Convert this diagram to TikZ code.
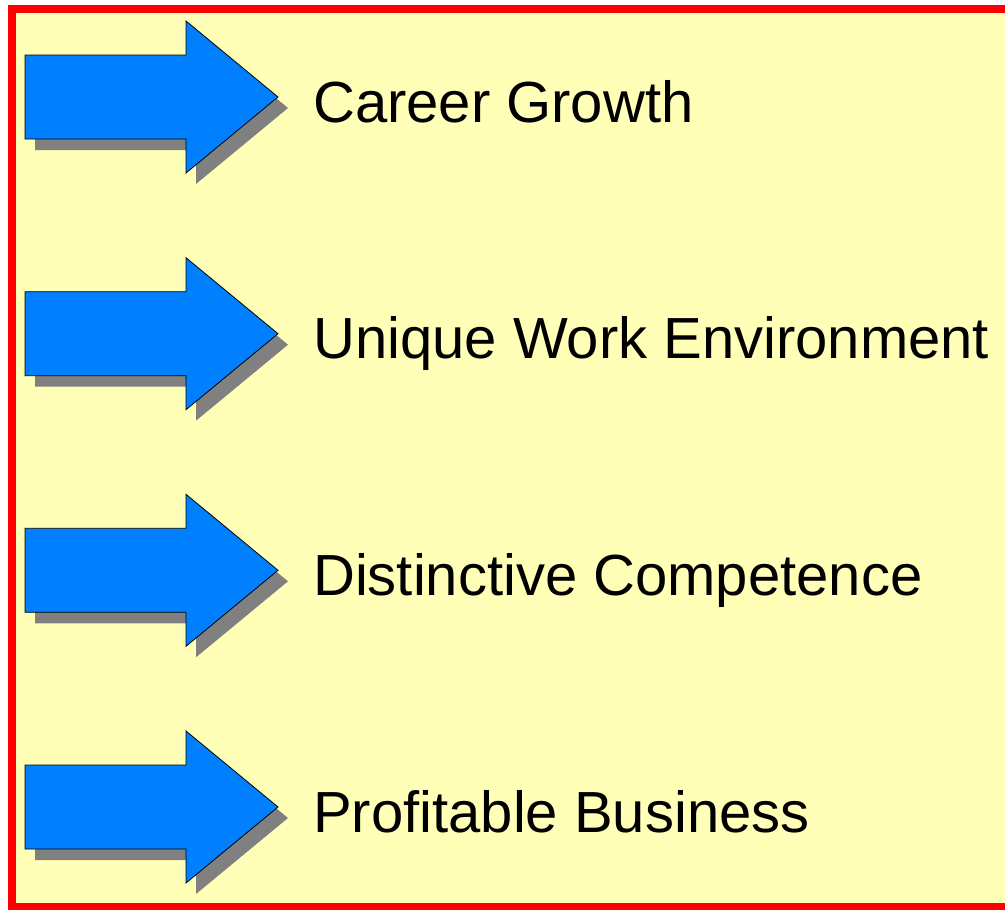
\documentclass[tikz,border=0pt]{standalone}
\usepackage{fontspec}
\setmainfont{Liberation Sans}
\definecolor{paper}{RGB}{255,255,184}
\definecolor{arrowblue}{RGB}{0,128,255}
\definecolor{shade}{RGB}{128,128,128}
\tikzset{
  bigarrow/.style={fill=arrowblue, draw=black, line width=0.8pt, line join=miter},
  arrowshadow/.style={fill=shade},
  item/.style={anchor=base west, inner sep=0pt, font=\fontsize{58}{60}\selectfont},
}
\newcommand\arrowpath{(25,-42) -- (186,-42) -- (186,-76) -- (278,0) -- (186,76) -- (186,42) -- (25,42) -- cycle}
\begin{document}
\begin{tikzpicture}[x=1pt, y=-1pt]
  \useasboundingbox (0,0) rectangle (1005,910);
  % frame
  \fill[paper] (12,9) rectangle (1015,907);
  \draw[red, line width=8pt] (12,9) rectangle (1015,907);
  % arrows and labels
  \foreach \yc/\name/\txt in {97/career/Career Growth, 333.7/unique/Unique Work Environment,
      570.3/distinct/Distinctive Competence, 807/profit/Profitable Business}{
    \begin{scope}[shift={(0,\yc)}]
      \fill[arrowshadow, shift={(10,11)}] \arrowpath;
      \draw[bigarrow] \arrowpath;
      \node[item] (\name) at (313,25) {\txt};
    \end{scope}
  }
\end{tikzpicture}
\end{document}
